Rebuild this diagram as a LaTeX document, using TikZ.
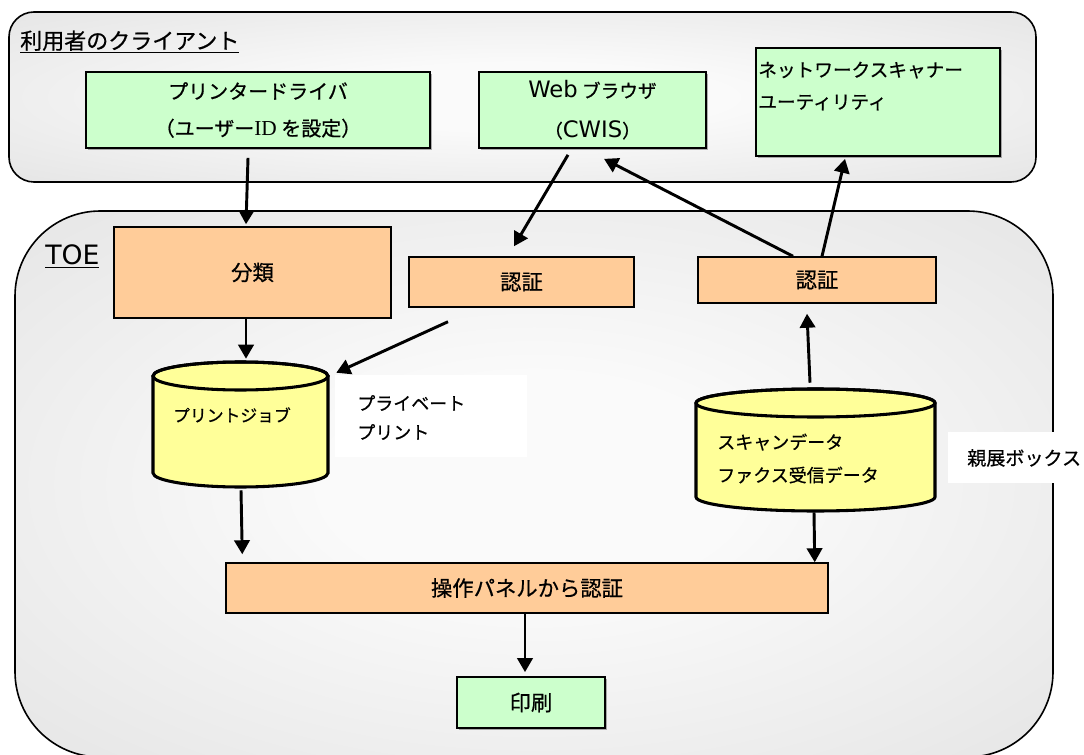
\documentclass[tikz,border=0pt]{standalone}
\usepackage{fontspec}
\setmainfont{Noto Sans CJK JP}[UprightFeatures={FakeBold=0.6}]
\newfontfamily\lat{DejaVu Sans}
\newfontfamily\serifid{Liberation Serif}
\usetikzlibrary{arrows.meta,calc,shadows}
\definecolor{gfill}{HTML}{CCFFCC}
\definecolor{ofill}{HTML}{FFCC99}
\definecolor{yfill}{HTML}{FFFF99}
\definecolor{bgedge}{HTML}{DADADA}
\definecolor{bgmid}{HTML}{FAFAFA}
\pgfdeclareradialshading{panelshade}{\pgfpoint{0bp}{0bp}}{color(0bp)=(bgmid); color(10bp)=(bgmid); color(50bp)=(bgedge); color(75bp)=(bgedge)}
\tikzset{
  gbox/.style={draw, line width=1.3pt, fill=gfill, inner sep=0pt,
    drop shadow={shadow xshift=1.2pt, shadow yshift=-1.2pt, fill=black, opacity=0.3}},
  obox/.style={draw, line width=1.1pt, fill=ofill, inner sep=0pt,
    drop shadow={shadow xshift=1pt, shadow yshift=-1pt, fill=black, opacity=0.2}},
  arr/.style={line width=2.2pt, -{Triangle[length=10.5pt,width=11.5pt]}},
  cylbody/.style={line width=2.3pt, fill=yfill, draw=black},
  holder/.style={inner sep=0pt, draw=none},
  whitelbl/.style={fill=white, inner sep=0pt, draw=none},
  lbl/.style={inner sep=0pt, align=left},
}
\begin{document}
\begin{tikzpicture}[x=0.75pt,y=-0.75pt]
\useasboundingbox (0,0) rectangle (1084,755);
\clip (0,0) rectangle (1084,755);
\fill[white] (0,0) rectangle (1084,755);

% client area
\shadedraw[shading=panelshade, line width=1.2pt, rounded corners=18.75pt] (9,12) rectangle (1036,182);
\node[anchor=base west, inner sep=0pt, font=\fontsize{16.5}{20}\selectfont] (ttl) at (20,49) {\underline{利用者のクライアント}};

% TOE area
\shadedraw[shading=panelshade, line width=1.2pt, rounded corners=64pt] (15,211) rectangle (1053,757);
\node[anchor=base west, inner sep=0pt, font=\lat\fontsize{20}{24}\selectfont] (toe) at (45,265) {\underline{TOE}};

% client boxes
\node[gbox, minimum width=258pt, minimum height=57pt, align=center, font=\fontsize{15}{27.75}\selectfont] (drv) at (258,110) {プリンタードライバ\\（ユーザー{\serifid\fontsize{16}{27.75}\selectfont ID} を設定）};
\node[gbox, minimum width=170.25pt, minimum height=57pt, align=center, font=\fontsize{14}{30}\selectfont] (web) at (592.5,110) {{\lat\fontsize{17}{30}\selectfont Web} ブラウザ\\（{\lat\fontsize{17}{30}\selectfont CWIS}）};
\node[gbox, minimum width=183pt, minimum height=81pt] (nsu) at (878,102) {};
\node[lbl, anchor=west, font=\fontsize{14}{24}\selectfont] (nsutxt) at (758,86) {ネットワークスキャナー\\ユーティリティ};

% TOE boxes
\node[obox, minimum width=207.75pt, minimum height=68.25pt, font=\fontsize{16}{20}\selectfont] (cls) at (252.5,272.5) {分類};
\node[obox, minimum width=168.75pt, minimum height=37.5pt, font=\fontsize{16}{20}\selectfont] (au1) at (521.5,282) {認証};
\node[obox, minimum width=178.5pt, minimum height=34.5pt, font=\fontsize{16}{20}\selectfont] (au2) at (817,280) {認証};
\node[obox, minimum width=451.5pt, minimum height=37.5pt, font=\fontsize{16}{20}\selectfont] (panel) at (527,588) {操作パネルから認証};
\node[gbox, minimum width=111pt, minimum height=38.25pt, font=\fontsize{16}{20}\selectfont] (prn) at (531,702.5) {印刷};

% print job cylinder
\node[holder, minimum width=132.75pt, minimum height=94.5pt] (job) at (240.5,425) {};
\path[cylbody] (153,376) -- (153,473) arc[start angle=180, end angle=0, x radius=87.5, y radius=14] -- (328,376) arc[start angle=0, end angle=-180, x radius=87.5, y radius=14] -- cycle;
\draw[line width=2.3pt] (240.5,376) ellipse[x radius=87.5, y radius=14];
\node[font=\fontsize{12.6}{15}\selectfont, inner sep=0pt] (jobtxt) at (232,415) {プリントジョブ};

% scan data cylinder
\node[holder, minimum width=180.75pt, minimum height=93pt] (scan) at (815.5,450) {};
\path[cylbody] (696,403) -- (696,497) arc[start angle=180, end angle=0, x radius=119.5, y radius=14] -- (935,403) arc[start angle=0, end angle=-180, x radius=119.5, y radius=14] -- cycle;
\draw[line width=2.3pt] (815.5,403) ellipse[x radius=119.5, y radius=14];
\node[lbl, anchor=west, font=\fontsize{13.5}{24.75}\selectfont] (scantxt) at (717,458.5) {スキャンデータ\\ファクス受信データ};

% white labels
\node[whitelbl, minimum width=144pt, minimum height=61.5pt] (priv) at (431,416) {};
\node[lbl, anchor=west, font=\fontsize{13.5}{21.75}\selectfont] (privtxt) at (357,417.5) {プライベート\\プリント};
\node[whitelbl, minimum width=106.5pt, minimum height=38.25pt] (conf) at (1019,457.5) {};
\node[lbl, anchor=west, font=\fontsize{14.3}{20}\selectfont] (conftxt) at (967,458) {親展ボックス};

% connectors
\draw[arr] ($(drv.south)+(-10,9)$) -- ($(cls.north)+(-6.5,-2)$);
\draw[arr] ($(web.south)+(-24.5,6)$) -- ($(au1.north)+(-7.5,-10)$);
\draw[arr] ($(au2.north)+(-24,0)$) -- ($(web.south)+(11.5,10)$);
\draw[arr] ($(au2.north)+(5,0)$) -- ($(nsu.south)+(-33,2)$);
\draw[arr] ($(cls.south)+(-6.5,0)$) -- ($(job.north)+(5.5,-3)$);
\draw[arr] ($(au1.south)+(-73.5,14)$) -- ($(job.north east)+(7,11)$);
\draw[arr] ($(scan.north)+(-5.5,-5)$) -- ($(au2.south)+(-10,10)$);
\draw[arr] ($(job.south)+(0.5,2)$) -- ($(panel.north west)+(17,-8)$);
\draw[arr] ($(scan.south)+(-1.5,0)$) -- ($(panel.north east)+(-14,0)$);
\draw[arr] ($(panel.south)+(-2,0)$) -- ($(prn.north)+(-6,-4)$);
\end{tikzpicture}
\end{document}
